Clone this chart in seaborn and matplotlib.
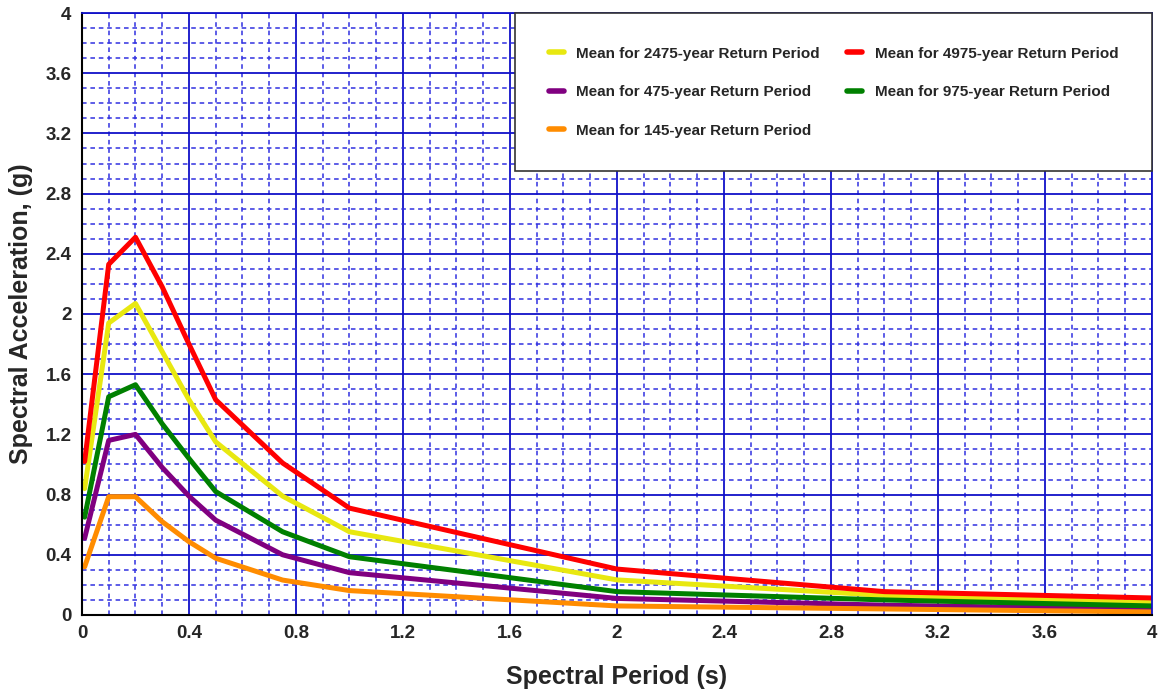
import pandas as pd
import matplotlib
matplotlib.use("Agg")
import matplotlib.pyplot as plt
from matplotlib.ticker import MultipleLocator, FuncFormatter
import seaborn as sns

# spectral periods (s)
periods = [0.01, 0.1, 0.2, 0.3, 0.4, 0.5, 0.75, 1.0, 2.0, 3.0, 4.0]

# mean spectral acceleration (g) per return period
sa_4975 = [1.02, 2.33, 2.51, 2.18, 1.80, 1.43, 1.01, 0.71, 0.305, 0.155, 0.113]
sa_2475 = [0.84, 1.94, 2.07, 1.75, 1.43, 1.15, 0.79, 0.553, 0.233, 0.13, 0.082]
sa_975 = [0.65, 1.45, 1.53, 1.27, 1.04, 0.82, 0.553, 0.387, 0.155, 0.10, 0.06]
sa_475 = [0.51, 1.16, 1.20, 0.98, 0.79, 0.63, 0.40, 0.281, 0.11, 0.065, 0.038]
sa_145 = [0.32, 0.786, 0.786, 0.62, 0.487, 0.377, 0.232, 0.162, 0.06, 0.04, 0.02]

labels = ["Mean for 2475-year Return Period",
          "Mean for 475-year Return Period",
          "Mean for 145-year Return Period",
          "Mean for 4975-year Return Period",
          "Mean for 975-year Return Period"]
series = {labels[0]: sa_2475, labels[1]: sa_475, labels[2]: sa_145,
          labels[3]: sa_4975, labels[4]: sa_975}
colors = {labels[0]: "#E8E810", labels[1]: "#800080", labels[2]: "#FF8C00",
          labels[3]: "#FF0000", labels[4]: "#008000"}

rows = []
for name, vals in series.items():
    for p, v in zip(periods, vals):
        rows.append({"Period": p, "SA": v, "Series": name})
df = pd.DataFrame(rows)

sns.set_style("white")
plt.rcParams['font.family'] = ['Liberation Sans', 'DejaVu Sans']

fig, ax = plt.subplots(figsize=(11.61, 6.93), dpi=100)
fig.subplots_adjust(left=0.0706, right=0.9922, top=0.9812, bottom=0.1126)

grid_blue = "#1010C8"
ax.set_axisbelow(True)
ax.grid(which="major", color=grid_blue, lw=1.3, ls="-")
ax.grid(which="minor", color="#3030E0", lw=1.1, ls=(0, (3, 2.5)))

sns.lineplot(data=df, x="Period", y="SA", hue="Series", hue_order=labels,
             palette=colors, lw=3.6, ax=ax, legend=True)

ax.set_xlim(0, 4)
ax.set_ylim(0, 4)
ax.xaxis.set_major_locator(MultipleLocator(0.4))
ax.xaxis.set_minor_locator(MultipleLocator(0.1))
ax.yaxis.set_major_locator(MultipleLocator(0.4))
ax.yaxis.set_minor_locator(MultipleLocator(0.1))
fmt = FuncFormatter(lambda v, pos: f"{round(v, 2):g}")
ax.xaxis.set_major_formatter(fmt)
ax.yaxis.set_major_formatter(fmt)

ax.tick_params(which="major", direction="inout", length=8, width=1.2,
               color="black", labelsize=13.5)
ax.tick_params(which="minor", direction="inout", length=5, width=1.0,
               color="black")
for t in ax.get_xticklabels() + ax.get_yticklabels():
    t.set_fontweight("bold")

for s in ["left", "bottom"]:
    ax.spines[s].set_color("black")
    ax.spines[s].set_linewidth(1.5)
for s in ["top", "right"]:
    ax.spines[s].set_color(grid_blue)
    ax.spines[s].set_linewidth(1.3)

ax.set_xlabel("Spectral Period (s)", fontsize=18, fontweight="bold", labelpad=16)
ax.set_ylabel("Spectral Acceleration, (g)", fontsize=18, fontweight="bold", labelpad=9)

handles, lbls = ax.get_legend_handles_labels()
order = [lbls.index(l) for l in labels]
leg = ax.legend([handles[i] for i in order], [lbls[i] for i in order],
                ncol=2, loc="upper left", bbox_to_anchor=(0.405, 0.0, 0.595, 1.0),
                mode="expand", frameon=True, fancybox=False, framealpha=1,
                edgecolor="#333333", prop={"size": 11, "weight": "bold"},
                borderpad=2.2, labelspacing=1.6, handlelength=1.0,
                handletextpad=0.8, columnspacing=2.0, borderaxespad=0)
leg.get_frame().set_linewidth(1.2)
for h in leg.get_lines():
    h.set_linewidth(4)

plt.savefig("out.png", dpi=100)
